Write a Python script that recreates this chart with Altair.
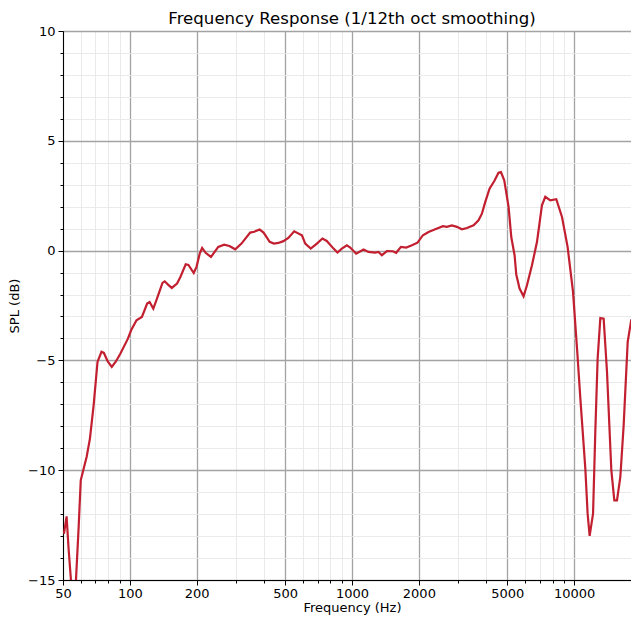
import altair as alt
import pandas as pd

freq = [50.5, 51.9, 53.0, 54.3, 55.6, 57.2, 58.8, 60.1, 63.9, 66.1, 68.7, 71.5, 74.5, 76.4, 79.5,
        82.9, 86.5, 90.7, 98.0, 101.3, 107.1, 113.3, 119.6, 122.7, 127.5, 131.7, 140.2, 143.5, 148.5,
        154.4, 163.1, 168.8, 178.4, 183.5, 193.9, 199.5, 206.3, 211.5, 219.3, 231.8, 249.9, 265.8,
        280.6, 298, 318, 348, 363, 384, 400, 426, 445, 466, 491, 517, 549, 595, 616, 652, 695, 736,
        770, 826, 860, 900, 948, 982, 1044, 1127, 1186, 1271, 1316, 1363, 1436, 1528, 1581, 1661,
        1754, 1861, 1972, 2086, 2211, 2370, 2566, 2672, 2816, 2967, 3125, 3292, 3526, 3712, 3844,
        3981, 4161, 4372, 4565, 4684, 4846, 5069, 5212, 5394, 5489, 5680, 5921, 6133, 6459, 6805,
        7162, 7416, 7809, 8311, 8819, 9345, 9885, 10306, 10666, 11230, 11501, 11744, 12166, 12454,
        12759, 13122, 13581, 14061, 14704, 15168, 15596, 16144, 16711, 17422, 18096, 18864, 19520,
        20000]
spl = [-12.9, -12.1, -13.6, -15.0, -17.0, -15.0, -12.6, -10.46, -9.39, -8.56, -7.04, -5.07, -4.61,
       -4.66, -5.05, -5.30, -5.05, -4.69, -4.01, -3.63, -3.17, -3.02, -2.41, -2.34, -2.64, -2.26,
       -1.47, -1.40, -1.55, -1.70, -1.50, -1.20, -0.62, -0.65, -1.02, -0.74, -0.14, 0.12, -0.10,
       -0.29, 0.17, 0.27, 0.21, 0.06, 0.32, 0.82, 0.86, 0.96, 0.82, 0.40, 0.32, 0.35, 0.43, 0.58,
       0.88, 0.70, 0.32, 0.09, 0.32, 0.55, 0.44, 0.09, -0.09, 0.09, 0.24, 0.14, -0.14, 0.05, -0.06,
       -0.09, -0.06, -0.21, -0.02, -0.03, -0.10, 0.17, 0.14, 0.24, 0.36, 0.70, 0.85, 0.97, 1.11,
       1.08, 1.15, 1.08, 0.97, 1.03, 1.15, 1.38, 1.68, 2.22, 2.82, 3.17, 3.55, 3.58, 3.20, 1.99,
       0.62, -0.21, -1.09, -1.73, -2.08, -1.58, -0.67, 0.40, 2.06, 2.45, 2.29, 2.34, 1.53, 0.17,
       -1.88, -4.46, -6.74, -9.93, -11.98, -12.99, -11.98, -8.26, -4.92, -3.07, -3.10, -5.53,
       -10.0, -11.37, -11.37, -10.31, -7.95, -4.16, -3.13, -3.86, -5.07, -6.3]

major_x = [50, 100, 200, 500, 1000, 2000, 5000, 10000]
minor_x = [60, 70, 80, 90, 300, 400, 600, 700, 800, 900, 3000, 4000, 6000, 7000, 8000, 9000]
all_x = sorted(major_x + minor_x)
y_ticks = list(range(-15, 11))

df = pd.DataFrame({"f": freq, "spl": spl})

FONT = "DejaVu Sans"
MAJOR_GRID = "#a3a3a3"
MINOR_GRID = "#e8e8e8"

x_major_test = "indexof([" + ",".join(str(v) for v in major_x) + "], datum.value) >= 0"
y_major_test = "datum.value % 5 == 0"

x_axis = alt.Axis(
    values=all_x,
    title="Frequency (Hz)",
    labelExpr="(" + x_major_test + ") ? format(datum.value, 'd') : ''",
    tickSize={"condition": {"test": x_major_test, "value": 5}, "value": 3},
    gridColor={"condition": {"test": x_major_test, "value": MAJOR_GRID}, "value": MINOR_GRID},
    gridWidth={"condition": {"test": x_major_test, "value": 1.3}, "value": 0.9},
    labelFlush=False,
    labelOverlap=False,
    labelPadding=2,
    titlePadding=1,
)
y_axis = alt.Axis(
    values=y_ticks,
    title="SPL (dB)",
    labelExpr="(" + y_major_test + ") ? datum.label : ''",
    tickSize={"condition": {"test": y_major_test, "value": 5}, "value": 3},
    gridColor={"condition": {"test": y_major_test, "value": MAJOR_GRID}, "value": MINOR_GRID},
    gridWidth={"condition": {"test": y_major_test, "value": 1.3}, "value": 0.9},
    labelFlush=False,
    labelOverlap=False,
    labelPadding=3,
    titlePadding=6,
)

chart = (
    alt.Chart(df)
    .mark_line(color="#c21f30", strokeWidth=2.2, clip=True)
    .encode(
        x=alt.X("f:Q", scale=alt.Scale(type="log", domain=[50, 20000], nice=False), axis=x_axis),
        y=alt.Y("spl:Q", scale=alt.Scale(domain=[-15, 10], nice=False, zero=False), axis=y_axis),
    )
    .properties(
        width=578,
        height=549,
        title=alt.Title("Frequency Response (1/12th oct smoothing)", fontSize=16.6,
                        fontWeight="normal", font=FONT, color="black", offset=-3),
        autosize=alt.AutoSizeParams(type="none"),
        padding={"left": 55, "top": 23, "right": -10, "bottom": 36},
    )
    .configure_view(stroke="black", strokeWidth=1)
    .configure_axis(
        labelFont=FONT, labelFontSize=13, labelColor="black",
        titleFont=FONT, titleFontSize=13, titleFontWeight="normal", titleColor="black",
        domainColor="black", domainWidth=1, tickColor="black", tickWidth=1,
        grid=True,
    )
)

chart.save("out.html", embed_options={"renderer": "svg", "actions": False})
